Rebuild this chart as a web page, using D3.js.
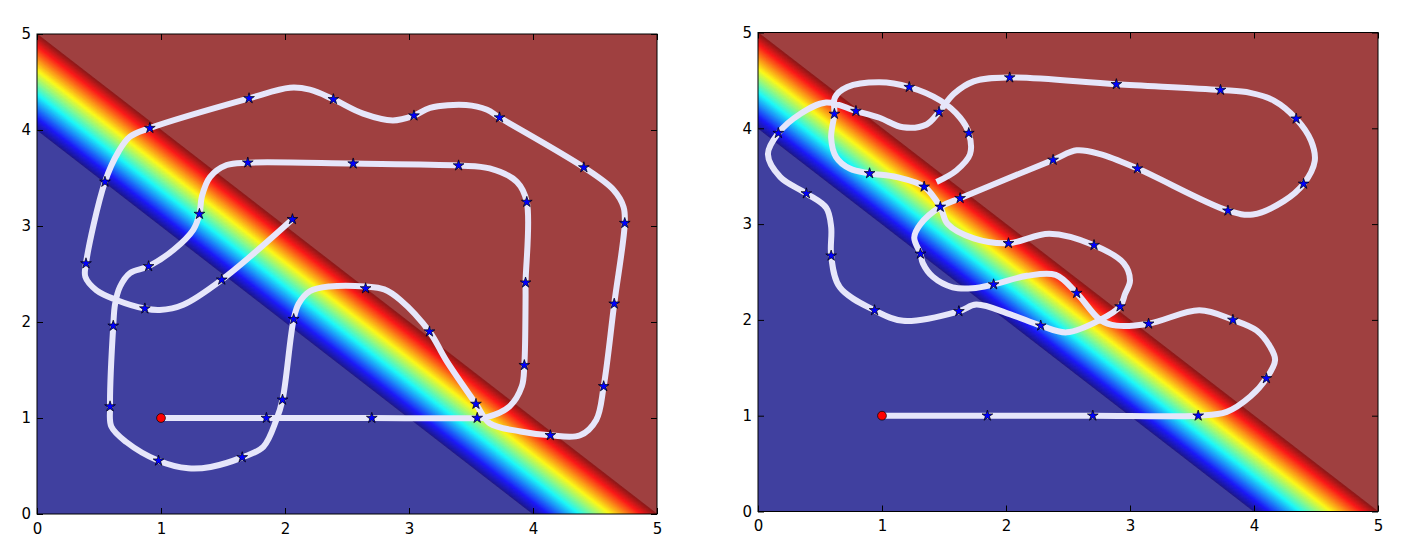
<!DOCTYPE html>
<html><head><meta charset="utf-8">
<script src="https://cdn.jsdelivr.net/npm/d3@7"></script>
<style>
body{margin:0;background:#fff;}
svg{display:block;}
text{font-family:"DejaVu Sans",sans-serif;}
</style>
</head><body>
<svg id="chart" width="1416" height="554"></svg>
<script>
// ---------- data ----------
const xTicks = [0, 1, 2, 3, 4, 5];
const yTicks = [0, 1, 2, 3, 4, 5];
const domainX = [0, 5];
const domainY = [0, 5];
// colour field z = x + y : below bandLow is min colour, above bandHigh max colour
const bandLow = 4;
const bandHigh = 5;
const bandLevels = d3.range(0, 120);        // number of filled contour levels in the band
const startPoint = [1, 1];

const leftPath = [
 [1,1],[1.85,1],[2.7,1],[3.55,1],[3.63,1.01],[3.81,1.12],[3.91,1.33],[3.93,1.55],[3.94,2.23],[3.94,2.41],
 [3.95,3.25],[3.87,3.46],[3.65,3.60],[3.40,3.63],[2.55,3.65],[1.70,3.66],[1.53,3.635],[1.395,3.51],[1.33,3.31],
 [1.31,3.125],[1.26,2.96],[1.10,2.75],[0.90,2.58],[0.75,2.51],[0.67,2.37],[0.63,2.19],[0.615,1.96],[0.589,1.12],
 [0.60,0.91],[0.72,0.75],[0.98,0.555],[1.22,0.476],[1.40,0.49],[1.655,0.59],[1.825,0.70],[1.93,0.98],[1.98,1.19],
 [2.07,2.03],[2.11,2.19],[2.20,2.32],[2.36,2.37],[2.65,2.37],[2.80,2.34],[2.93,2.23],[3.165,1.90],[3.30,1.60],
 [3.54,1.146],[3.65,0.945],[3.90,0.86],[4.14,0.82],[4.38,0.82],[4.51,0.98],[4.57,1.33],[4.655,2.19],[4.74,3.03],
 [4.73,3.20],[4.65,3.375],[4.41,3.61],[3.73,4.13],[3.63,4.21],[3.46,4.26],[3.17,4.23],[3.04,4.15],[2.87,4.10],
 [2.63,4.17],[2.39,4.32],[2.20,4.42],[2.04,4.44],[1.71,4.33],[0.91,4.02],[0.75,3.93],[0.66,3.78],[0.548,3.46],
 [0.395,2.61],[0.39,2.47],[0.48,2.33],[0.64,2.23],[0.87,2.14],[0.99,2.125],[1.18,2.18],[1.49,2.44],[2.06,3.07]
];
const leftStars = [
 [1.85,1],[2.7,1],[3.55,1],[3.93,1.55],[3.94,2.41],[3.95,3.25],[3.40,3.63],[2.55,3.65],[1.70,3.66],[1.31,3.125],
 [0.90,2.58],[0.615,1.96],[0.589,1.12],[0.98,0.555],[1.655,0.59],[1.98,1.19],[2.07,2.03],[2.65,2.35],[3.165,1.90],
 [3.54,1.146],[4.14,0.82],[4.57,1.33],[4.655,2.19],[4.74,3.03],[4.41,3.61],[3.73,4.13],[3.04,4.15],[2.39,4.32],
 [1.71,4.33],[0.91,4.02],[0.548,3.46],[0.395,2.61],[0.87,2.14],[1.49,2.44],[2.06,3.07]
];

const rightPath = [
 [1,1],[1.85,1],[2.7,1],[3.55,1],[3.78,1.04],[3.97,1.20],[4.10,1.39],[4.17,1.58],[4.13,1.72],[4.02,1.89],
 [3.83,2.0],[3.56,2.10],[3.15,1.96],[2.89,1.94],[2.76,2.0],[2.57,2.28],[2.40,2.47],[2.17,2.46],[1.90,2.37],
 [1.73,2.33],[1.57,2.34],[1.41,2.45],[1.33,2.59],[1.31,2.69],[1.26,2.86],[1.31,3.0],[1.47,3.18],[1.63,3.27],
 [2.38,3.67],[2.57,3.77],[2.76,3.73],[3.06,3.58],[3.79,3.14],[3.99,3.10],[4.24,3.24],[4.40,3.42],[4.49,3.66],
 [4.46,3.87],[4.34,4.10],[4.16,4.29],[3.97,4.37],[3.73,4.40],[2.89,4.46],[2.03,4.53],[1.74,4.49],[1.58,4.36],
 [1.46,4.17],[1.36,4.04],[1.17,4.01],[0.98,4.11],[0.79,4.18],[0.55,4.27],[0.34,4.15],[0.164,3.95],[0.08,3.73],
 [0.18,3.49],[0.39,3.32],[0.55,3.17],[0.59,2.97],[0.59,2.67],[0.66,2.34],[0.94,2.10],[1.17,1.99],[1.62,2.09],
 [1.76,2.16],[2.03,2.06],[2.28,1.94],[2.49,1.87],[2.76,2.0],[2.92,2.14],[2.96,2.27],[3.0,2.41],[2.95,2.59],
 [2.71,2.78],[2.35,2.90],[2.02,2.80],[1.74,2.85],[1.53,3.0],[1.47,3.18],[1.34,3.39],[1.12,3.49],[0.90,3.53],
 [0.74,3.58],[0.63,3.70],[0.59,3.90],[0.616,4.15],[0.62,4.32],[0.72,4.43],[0.98,4.48],[1.22,4.43],[1.47,4.29],
 [1.63,4.11],[1.70,3.95],[1.71,3.73],[1.60,3.56],[1.44,3.44]
];
const rightStars = [
 [1.85,1],[2.7,1],[3.55,1],[4.10,1.39],[3.83,2.0],[3.15,1.96],[2.57,2.28],[1.90,2.37],[1.31,2.69],[1.47,3.18],
 [1.63,3.27],[2.38,3.67],[3.06,3.58],[3.79,3.14],[4.40,3.42],[4.34,4.10],[3.73,4.40],[2.89,4.46],[2.03,4.53],
 [1.46,4.17],[0.79,4.18],[0.164,3.95],[0.39,3.32],[0.59,2.67],[0.94,2.10],[1.62,2.09],[2.28,1.94],[2.92,2.14],
 [2.71,2.78],[2.02,2.80],[1.34,3.39],[0.90,3.53],[0.616,4.15],[1.22,4.43],[1.70,3.95]
];

// ---------- helpers ----------
function jet(t){
  const c = v => Math.max(0, Math.min(1, v));
  const r = c(1.5 - Math.abs(4*t - 3)), g = c(1.5 - Math.abs(4*t - 2)), b = c(1.5 - Math.abs(4*t - 1));
  return d3.rgb(r*255, g*255, b*255);
}
function blend(col, a){ // alpha over white
  return d3.rgb(255*(1-a) + col.r*a, 255*(1-a) + col.g*a, 255*(1-a) + col.b*a);
}

const svg = d3.select("#chart");

const panels = [
  {x0: 37, x1: 657, y0: 34, y1: 514, path: leftPath, stars: leftStars},
  {x0: 758, x1: 1378, y0: 32.5, y1: 511.5, path: rightPath, stars: rightStars}
];

panels.forEach((p, i) => {
  const x = d3.scaleLinear().domain(domainX).range([p.x0, p.x1]);
  const y = d3.scaleLinear().domain(domainY).range([p.y1, p.y0]);
  const g = svg.append("g");
  const clipId = "clip" + i;
  g.append("clipPath").attr("id", clipId).append("rect")
    .attr("x", p.x0).attr("y", p.y0).attr("width", p.x1 - p.x0).attr("height", p.y1 - p.y0);
  const plot = g.append("g").attr("clip-path", `url(#${clipId})`);

  const poly = pts => "M" + pts.map(d => x(d[0]) + "," + y(d[1])).join("L") + "Z";

  // upper region (max colour)
  plot.append("path").attr("d", poly([[domainX[0],domainY[0]],[domainX[1],domainY[0]],[domainX[1],domainY[1]],[domainX[0],domainY[1]]]))
    .attr("fill", blend(jet(1), 0.75));
  // lower region (min colour)
  plot.append("path").attr("d", poly([[0,0],[0,bandLow],[bandLow,0]]))
    .attr("fill", blend(jet(0), 0.75));
  // band
  const n = bandLevels.length;
  const bandCol = k => blend(jet((k + 0.5) / n), 0.9);
  plot.selectAll("path.band").data(bandLevels).join("path")
    .attr("class", "band")
    .attr("d", k => {
      const c1 = bandLow + (bandHigh - bandLow) * k / n;
      const c2 = bandLow + (bandHigh - bandLow) * (k + 1) / n;
      return poly([[0,c1],[0,c2],[c2,0],[c1,0]]);
    })
    .attr("fill", bandCol)
    .attr("stroke", bandCol)
    .attr("stroke-width", 0.6);

  // trajectory
  const line = d3.line().x(d => x(d[0])).y(d => y(d[1])).curve(d3.curveCatmullRom.alpha(0.5));
  plot.append("path").attr("d", line(p.path))
    .attr("fill", "none").attr("stroke", "#e6e6fa").attr("stroke-width", 6)
    .attr("stroke-linejoin", "round").attr("stroke-linecap", "butt");

  // stars
  const star = d3.symbol().type(d3.symbolStar).size(36);
  plot.selectAll("path.star").data(p.stars).join("path")
    .attr("class", "star")
    .attr("transform", d => `translate(${x(d[0])},${y(d[1])})`)
    .attr("d", star)
    .attr("fill", "#0000ff").attr("stroke", "#000").attr("stroke-width", 0.7);

  // start point
  plot.append("circle").attr("cx", x(startPoint[0])).attr("cy", y(startPoint[1])).attr("r", 4.4)
    .attr("fill", "#ff0000").attr("stroke", "#000").attr("stroke-width", 0.7);

  // axes
  const fs = "15px";
  const ax = g.append("g").attr("transform", `translate(0,${p.y1})`)
    .call(d3.axisBottom(x).tickValues(xTicks).tickFormat(d3.format("d")).tickSize(-6).tickPadding(9));
  const ay = g.append("g").attr("transform", `translate(${p.x0},0)`)
    .call(d3.axisLeft(y).tickValues(yTicks).tickFormat(d3.format("d")).tickSize(-6).tickPadding(6));
  const at = g.append("g").attr("transform", `translate(0,${p.y0})`)
    .call(d3.axisTop(x).tickValues(xTicks).tickFormat("").tickSize(-6));
  const ar = g.append("g").attr("transform", `translate(${p.x1},0)`)
    .call(d3.axisRight(y).tickValues(yTicks).tickFormat("").tickSize(-6));
  [ax, ay, at, ar].forEach(a => {
    a.select(".domain").remove();
    a.selectAll("text").style("font-size", fs).attr("fill", "#000").style("font-family", "'DejaVu Sans', sans-serif");
    a.selectAll("line").attr("stroke", "#000");
  });
  g.append("rect").attr("x", p.x0).attr("y", p.y0).attr("width", p.x1 - p.x0).attr("height", p.y1 - p.y0)
    .attr("fill", "none").attr("stroke", "#000").attr("stroke-width", 1);
});
</script>
</body></html>
